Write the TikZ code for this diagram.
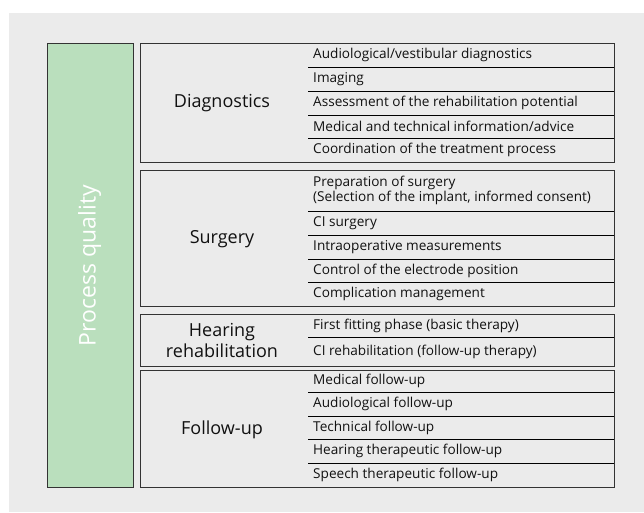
\documentclass[tikz,border=0pt]{standalone}
\usepackage{fontspec}
\setmainfont{Open Sans}
\definecolor{bggray}{HTML}{EBEBEB}
\definecolor{qgreen}{HTML}{BADFBD}
\definecolor{boxline}{HTML}{333333}
\definecolor{txt}{HTML}{111111}
\begin{document}
\begin{tikzpicture}[x=1pt,y=-1pt,
  groupbox/.style={draw=boxline,line width=1.3pt,anchor=north west,inner sep=0pt},
  grouplabel/.style={font=\fontsize{18}{21}\selectfont,text=txt,align=center},
  item/.style={font=\fontsize{13.6}{15}\selectfont,text=txt,anchor=west,inner sep=0pt,align=left},
  sep/.style={draw=black,line width=0.8pt}]
\useasboundingbox (0,0) rectangle (644,512);
\fill[bggray] (9,13) rectangle (644,512);
% Process quality column
\node[groupbox,fill=qgreen,minimum width=86pt,minimum height=444pt] (pq) at (47,43) {};
\node[rotate=90,text=white,font=\fontsize{23}{26}\selectfont] (pqlabel) at ([xshift=-1pt]pq.center) {Process quality};
% group boxes
\node[groupbox,minimum width=474pt,minimum height=119pt] (diag) at (140,43) {};
\node[groupbox,minimum width=474pt,minimum height=136pt] (surg) at (140,170) {};
\node[groupbox,minimum width=474pt,minimum height=52pt] (hear) at (140,314) {};
\node[groupbox,minimum width=474pt,minimum height=117pt] (foll) at (140,370) {};
% group labels
\node[grouplabel] (diaglabel) at (222,103.5) {Diagnostics};
\node[grouplabel] (surglabel) at (222,239) {Surgery};
\node[grouplabel] (hearlabel) at (222,340) {Hearing\\rehabilitation};
\node[grouplabel] (folllabel) at (222,429.5) {Follow-up};
% separators
\foreach \y in {67,91,115,138, 211,235,259,282, 337, 392,416,439,463}
  \draw[sep] (308,\y) -- (614,\y);
% Diagnostics items
\node[item] (d1) at (313,55) {Audiological/vestibular diagnostics};
\node[item] (d2) at (313,79) {Imaging};
\node[item] (d3) at (313,103) {Assessment of the rehabilitation potential};
\node[item] (d4) at (313,126.5) {Medical and technical information/advice};
\node[item] (d5) at (313,150) {Coordination of the treatment process};
% Surgery items
\node[item] (s1) at (313,190.5) {Preparation of surgery\\(Selection of the implant, informed consent)};
\node[item] (s2) at (313,223) {CI surgery};
\node[item] (s3) at (313,247) {Intraoperative measurements};
\node[item] (s4) at (313,270.5) {Control of the electrode position};
\node[item] (s5) at (313,294) {Complication management};
% Hearing rehabilitation items
\node[item] (h1) at (313,325.5) {First fitting phase (basic therapy)};
\node[item] (h2) at (313,351.5) {CI rehabilitation (follow-up therapy)};
% Follow-up items
\node[item] (f1) at (313,381) {Medical follow-up};
\node[item] (f2) at (313,404) {Audiological follow-up};
\node[item] (f3) at (313,427.5) {Technical follow-up};
\node[item] (f4) at (313,451) {Hearing therapeutic follow-up};
\node[item] (f5) at (313,475) {Speech therapeutic follow-up};
\end{tikzpicture}
\end{document}
